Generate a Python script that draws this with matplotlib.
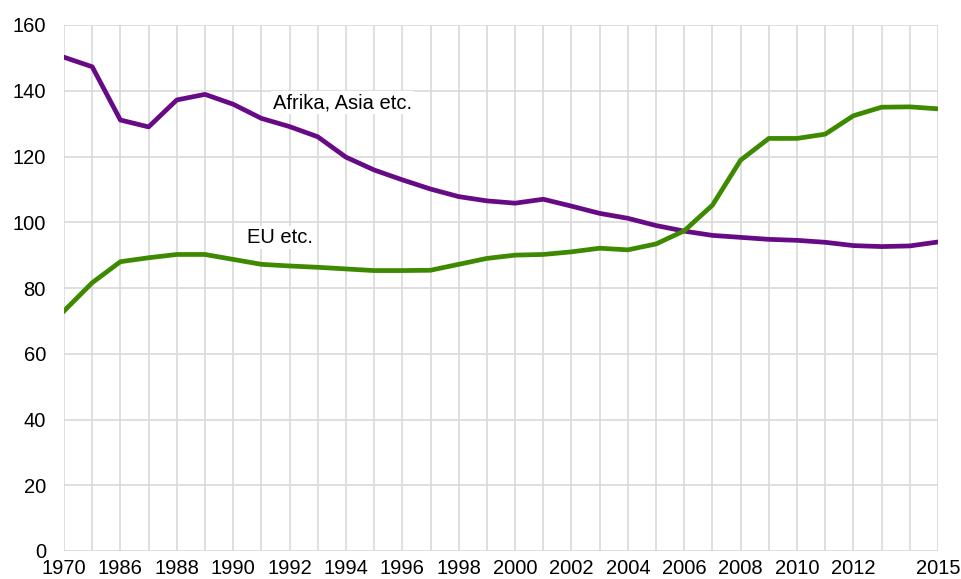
import matplotlib
matplotlib.use('Agg')
import matplotlib.pyplot as plt

plt.rcParams['font.family'] = ['Liberation Sans', 'DejaVu Sans']

# categories (second point is unlabeled in the original)
years = ['1970', '1985'] + [str(y) for y in range(1986, 2016)]
shown = ['1970', '1986', '1988', '1990', '1992', '1994', '1996', '1998', '2000',
         '2002', '2004', '2006', '2008', '2010', '2012', '2015']

afrika_asia = [150.2, 147.3, 131.1, 129.0, 137.2, 138.9, 135.9, 131.6, 129.1, 126.0,
               119.8, 115.9, 112.9, 110.1, 107.8, 106.5, 105.8, 107.0, 104.9, 102.7,
               101.2, 99.0, 97.3, 96.0, 95.4, 94.8, 94.5, 93.9, 92.9, 92.6, 92.8, 94.0]
eu = [73.0, 81.6, 88.0, 89.2, 90.2, 90.2, 88.7, 87.2, 86.7, 86.3,
      85.8, 85.3, 85.3, 85.4, 87.2, 89.0, 90.0, 90.2, 91.0, 92.1,
      91.6, 93.4, 97.4, 105.2, 118.9, 125.5, 125.5, 126.8, 132.4, 135.0, 135.1, 134.5]

purple = '#660a85'
green = '#3d8a00'

fig = plt.figure(figsize=(9.62, 5.79), dpi=100)
ax = fig.add_axes([64 / 962, 28 / 579, 874 / 962, 526 / 579])

x = list(range(len(years)))
ax.plot(x, afrika_asia, color=purple, lw=3.4, solid_joinstyle='round', zorder=3)
ax.plot(x, eu, color=green, lw=3.4, solid_joinstyle='round', zorder=3)

ax.set_xlim(0, len(years) - 1)
ax.set_ylim(0, 160)
ax.set_yticks(range(0, 161, 20))
ax.set_xticks(x)
ax.set_xticklabels([y if y in shown else '' for y in years])

ax.grid(True, color='#d9d9d9', lw=1.2)
ax.set_axisbelow(True)
for s in ax.spines.values():
    s.set_visible(False)
ax.tick_params(length=0, labelsize=14.5, colors='black')
ax.tick_params(axis='y', pad=13)
ax.tick_params(axis='x', pad=6)

box = dict(facecolor='white', edgecolor='none', pad=1.5)
ax.text(7.42, 136.4, 'Afrika, Asia etc.', fontsize=14.5, va='center', ha='left',
        bbox=box, zorder=4)
ax.text(6.5, 95.5, 'EU etc.', fontsize=14.5, va='center', ha='left',
        bbox=box, zorder=4)

fig.savefig('out.png', dpi=100)
